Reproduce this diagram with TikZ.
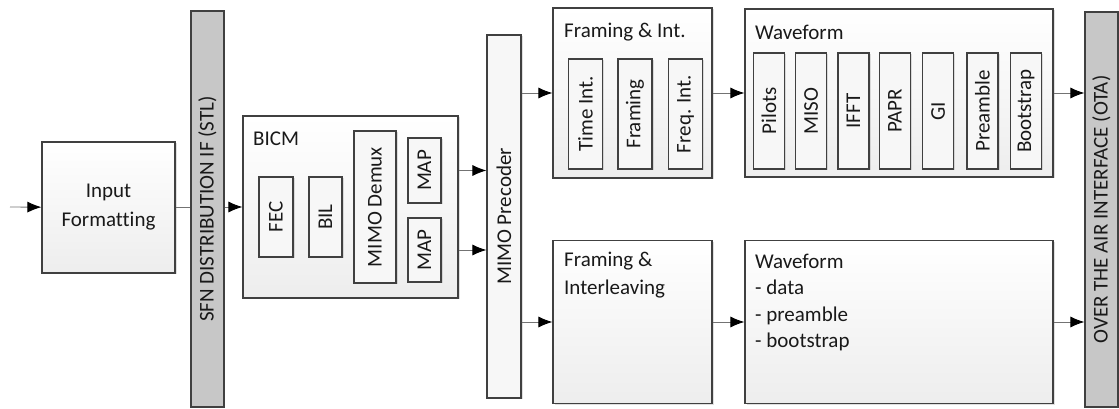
\documentclass[tikz,border=0pt]{standalone}
\usepackage{fontspec}
\setmainfont{Carlito}[Ligatures=NoCommon]
\usetikzlibrary{arrows.meta}
\usetikzlibrary{shadows}

\begin{document}
\begin{tikzpicture}[x=1pt,y=1pt,font=\fontsize{21}{29}\selectfont,text=black!90,
    blk/.style={draw=black!75,line width=1.1pt,top color=white,bottom color=black!7,inner sep=0pt,
        drop shadow={shadow xshift=1.5pt,shadow yshift=-1.5pt,opacity=0.25}},
    sub/.style={draw=black!75,line width=1.1pt,fill=black!3,rotate=90,inner sep=0pt,
        drop shadow={shadow xshift=1.5pt,shadow yshift=-1.5pt,opacity=0.25}},
    bar/.style={draw=black!75,line width=1.1pt,fill=black!22,rotate=90,inner sep=0pt},
    lbl/.style={anchor=west,inner sep=0pt},
    lnk/.style={draw=black!55,line width=0.9pt},
    arr/.style={lnk,-{Latex[length=14pt,width=11pt,black]}}]
    \useasboundingbox (0,0) rectangle (1119,409);

    % entree et interface STL
    \coordinate (in) at (10,202);
    \node[blk,minimum width=133pt,minimum height=131pt,align=center] (inp) at (108.5,201.5) {Input\\Formatting};
    \node[bar,minimum width=396pt,minimum height=33pt] (sfn) at (207.5,200) {SFN DISTRIBUTION IF (STL)};

    % BICM
    \node[blk,minimum width=215pt,minimum height=182pt] (bicm) at (350.5,202) {};
    \node[lbl] (bicmlbl) at (253,270) {BICM};
    \node[sub,minimum width=80pt,minimum height=34pt] (fec) at (276,192) {FEC};
    \node[sub,minimum width=80pt,minimum height=33pt] (bil) at (325.5,192) {BIL};
    \node[sub,minimum width=152pt,minimum height=42pt] (dmx) at (375,202) {MIMO Demux};
    \node[sub,minimum width=65pt,minimum height=33pt] (mapa) at (424.5,238.5) {MAP};
    \node[sub,minimum width=64pt,minimum height=33pt] (mapb) at (424.5,159) {MAP};

    % precodeur
    \node[sub,minimum width=363pt,minimum height=34pt] (prec) at (504,192.5) {MIMO Precoder};

    % voie du haut
    \node[blk,minimum width=159pt,minimum height=170pt] (fi) at (632.5,316) {};
    \node[lbl] (filbl) at (564,377) {Framing \& Int.};
    \foreach \x/\n/\t in {585.5/ti/Time Int., 635/fr/Framing, 685.5/fq/Freq. Int.}
        \node[sub,minimum width=110pt,minimum height=34pt] (\n) at (\x,295) {\t};

    \node[blk,minimum width=308pt,minimum height=168pt] (wf) at (899,316) {};
    \node[lbl] (wflbl) at (755,377) {Waveform};
    \foreach \x/\n/\t in {769/pil/Pilots, 811/miso/MISO, 853.5/ifft/IFFT, 895/papr/PAPR,
        938/gi/GI, 982.5/pre/Preamble, 1026/boot/Bootstrap}
        \node[sub,minimum width=116pt,minimum height=31pt] (\n) at (\x,298) {\t};

    % voie du bas
    \node[blk,minimum width=159pt,minimum height=163pt] (fil) at (632.5,87) {};
    \node[anchor=north west,align=left,inner sep=0pt,font=\fontsize{21}{28}\selectfont] (fillbl) at (564,157) {Framing \&\\Interleaving};
    \node[blk,minimum width=308pt,minimum height=163pt] (wfb) at (899,87) {};
    \node[anchor=north west,align=left,inner sep=0pt,font=\fontsize{21}{26.3}\selectfont] (wfblbl) at (755,155) {Waveform\\- data\\- preamble\\- bootstrap};

    % interface OTA
    \node[bar,minimum width=395pt,minimum height=33pt] (ota) at (1101.5,199.5) {OVER THE AIR INTERFACE (OTA)};

    % liaisons
    \draw[arr] (in) -- (inp);
    \draw[lnk] (inp.east) -- (inp.east -| sfn.north);
    \draw[arr] (sfn.south |- bicm.west) -- (bicm.west);
    \draw[arr] (bicm.east |- mapa) -- (prec.north |- mapa);
    \draw[arr] (bicm.east |- mapb) -- (prec.north |- mapb);
    \draw[arr] (prec.south |- fi.west) -- (fi.west);
    \draw[arr] (fi.east) -- (wf.west);
    \draw[arr] (wf.east) -- (wf.east -| ota.north);
    \draw[arr] (prec.south |- fil.west) -- (fil.west);
    \draw[arr] (fil.east) -- (wfb.west);
    \draw[arr] (wfb.east) -- (wfb.east -| ota.north);
\end{tikzpicture}
\end{document}
